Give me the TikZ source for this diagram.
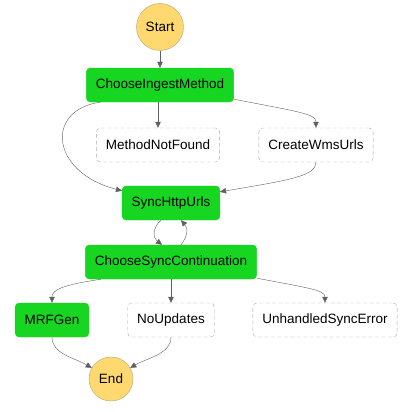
\documentclass[tikz,border=0pt]{standalone}
\usepackage{fontspec}
\setmainfont{Liberation Sans}
\usetikzlibrary{arrows.meta}
\definecolor{taskgreen}{RGB}{22,214,34}
\definecolor{endyellow}{RGB}{255,216,112}
\definecolor{endline}{RGB}{180,165,120}
\definecolor{edgegray}{RGB}{95,95,95}
\begin{document}
\begin{tikzpicture}[x=1pt,y=-1pt,
        every node/.style={font=\fontsize{13.5}{16}\selectfont},
        terminal/.style={circle,draw=endline,fill=endyellow,minimum size=47pt,inner sep=0pt},
        taskbox/.style={rectangle,rounded corners=4pt,fill=taskgreen,draw=taskgreen,minimum height=34pt,inner xsep=9.5pt},
        dashbox/.style={rectangle,rounded corners=4pt,fill=white,draw=gray!65,dash pattern=on 4pt off 2.5pt,minimum height=34pt,inner xsep=9.5pt},
        >={Triangle[length=6pt,width=5.5pt]}]
        \useasboundingbox (0,0) rectangle (406,412);

        \node[terminal] at (160,27)  (start) {Start};
        \node[taskbox]  at (160,85)  (ingest) {ChooseIngestMethod};
        \node[dashbox]  at (158,145) (notfound) {MethodNotFound};
        \node[dashbox]  at (316,145) (wms) {CreateWmsUrls};
        \node[taskbox]  at (171,203) (sync) {SyncHttpUrls};
        \node[taskbox]  at (171,262) (cont) {ChooseSyncContinuation};
        \node[taskbox]  at (52,320)  (mrf) {MRFGen};
        \node[dashbox]  at (171,320) (noupd) {NoUpdates};
        \node[dashbox]  at (325,320) (unhandled) {UnhandledSyncError};
        \node[terminal,minimum size=44pt] at (111,379) (end) {End};

        \begin{scope}[draw=edgegray,fill=edgegray,->]
        \draw (start) -- (ingest);
        \draw (ingest.south -| notfound.north) -- (notfound.north);
        \draw ([yshift=3pt]ingest.south east) .. controls (300,112) and (316,114) .. (wms.north);
        \draw ([xshift=14pt]ingest.south west) .. controls (45,110) and (50,172) .. ([yshift=-5pt]sync.north west);
        \draw (wms.south) .. controls (316,176) and (290,180) .. ([yshift=-6pt]sync.north east);

        % loop between sync and continuation
        \draw ([xshift=-10pt]sync.south) .. controls (152,228) and (153,238) .. ([xshift=-9pt]cont.north);
        \draw ([xshift=10pt]cont.north) .. controls (188,236) and (188,228) .. ([xshift=10pt]sync.south);

        \draw ([xshift=16pt]cont.south west) .. controls (62,285) and (52,290) .. (mrf.north);
        \draw (cont) -- (noupd);
        \draw ([yshift=1pt]cont.south east) .. controls (308,288) and (325,290) .. (unhandled.north);
        \draw (mrf.south) .. controls (52,354) and (75,358) .. (end.150);
        \draw (noupd.south) .. controls (171,354) and (147,358) .. (end.30);
        \end{scope}
    \end{tikzpicture}
\end{document}
